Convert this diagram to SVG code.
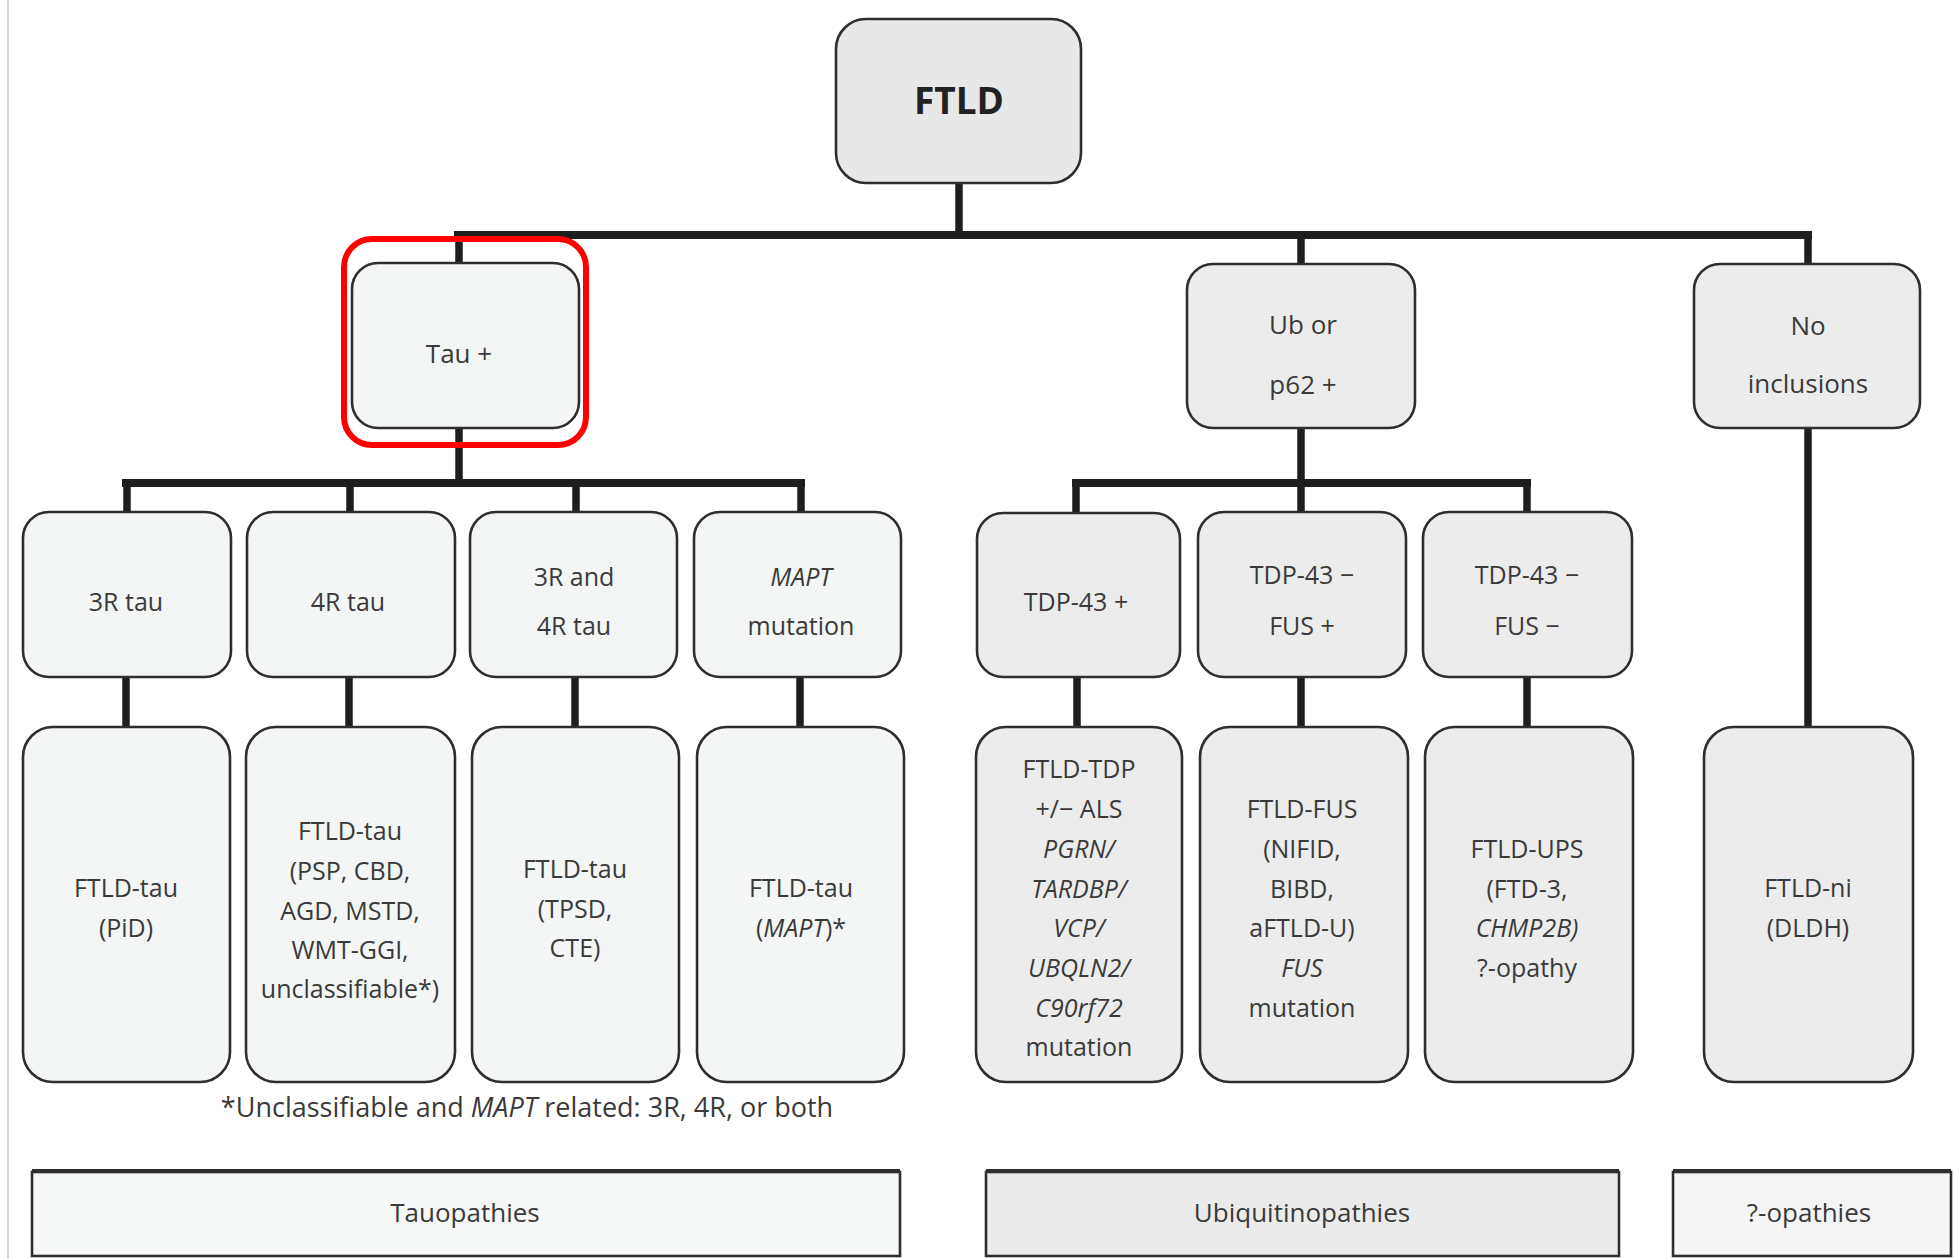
<svg xmlns="http://www.w3.org/2000/svg" width="1954" height="1259" viewBox="0 0 1954 1259">
<style>
.box{stroke:#2e2e2e;stroke-width:2.6}
.tau{fill:#f4f5f5}
.ubi{fill:#ececec}
.top{fill:#e8e8e9}
.t{font-family:"Open Sans","Noto Sans",sans-serif;font-size:25px;fill:#3a3a3a;text-anchor:middle}
.l1{font-size:26px}
.i{font-style:italic}
.conn line{stroke:#1e1e1e;stroke-linecap:butt}
.h{stroke-width:8}
.v{stroke-width:7.5}
.bar{stroke:#2e2e2e;stroke-width:2.6}
</style>
<rect x="0" y="0" width="1954" height="1259" fill="#ffffff"/>
<line x1="8" y1="0" x2="8" y2="1259" stroke="#d4d4d4" stroke-width="2"/>

<g id="connectors" class="conn">
  <line class="v" x1="959" y1="183" x2="959" y2="239"/>
  <line class="h" x1="454" y1="235" x2="1812" y2="235"/>
  <line class="v" x1="459" y1="231" x2="459" y2="263"/>
  <line class="v" x1="1301" y1="231" x2="1301" y2="263"/>
  <line class="v" x1="1808" y1="231" x2="1808" y2="263"/>
  <line class="v" x1="459" y1="428" x2="459" y2="487"/>
  <line class="h" x1="122" y1="483" x2="805" y2="483"/>
  <line class="v" x1="127" y1="479" x2="127" y2="512"/>
  <line class="v" x1="350" y1="479" x2="350" y2="512"/>
  <line class="v" x1="576" y1="479" x2="576" y2="512"/>
  <line class="v" x1="801" y1="479" x2="801" y2="512"/>
  <line class="v" x1="1301" y1="428" x2="1301" y2="487"/>
  <line class="h" x1="1072" y1="483" x2="1531" y2="483"/>
  <line class="v" x1="1076" y1="479" x2="1076" y2="512"/>
  <line class="v" x1="1301" y1="479" x2="1301" y2="512"/>
  <line class="v" x1="1527" y1="479" x2="1527" y2="512"/>
  <line class="v" x1="1808" y1="428" x2="1808" y2="727"/>
  <line class="v" x1="126" y1="677" x2="126" y2="727"/>
  <line class="v" x1="349" y1="677" x2="349" y2="727"/>
  <line class="v" x1="575" y1="677" x2="575" y2="727"/>
  <line class="v" x1="800" y1="677" x2="800" y2="727"/>
  <line class="v" x1="1077" y1="677" x2="1077" y2="727"/>
  <line class="v" x1="1301" y1="677" x2="1301" y2="727"/>
  <line class="v" x1="1527" y1="677" x2="1527" y2="727"/>
</g>

<g id="ftld">
  <rect class="box top" x="836" y="19" width="245" height="164" rx="30"/>
  <text class="t" x="959" y="114" style="font-size:37px;font-weight:bold;fill:#222">FTLD</text>
</g>

<g id="tau-pos">
  <rect class="box tau" x="352" y="263" width="227" height="165" rx="26"/>
  <text class="t l1" x="459" y="363">Tau +</text>
</g>
<g id="highlight">
  <rect x="344" y="239" width="242" height="206" rx="28" fill="none" stroke="#ff0000" stroke-width="6"/>
</g>

<g id="ub-p62">
  <rect class="box ubi" x="1187" y="264" width="228" height="164" rx="26"/>
  <text class="t l1" x="1303" y="334">Ub or</text>
  <text class="t l1" x="1303" y="394">p62 +</text>
</g>

<g id="no-inclusions">
  <rect class="box ubi" x="1694" y="264" width="226" height="164" rx="26"/>
  <text class="t l1" x="1808" y="335">No</text>
  <text class="t l1" x="1808" y="393">inclusions</text>
</g>

<g id="r3-tau">
  <rect class="box tau" x="23" y="512" width="208" height="165" rx="26"/>
  <text class="t" x="126" y="611">3R tau</text>
</g>
<g id="r4-tau">
  <rect class="box tau" x="247" y="512" width="208" height="165" rx="26"/>
  <text class="t" x="348" y="611">4R tau</text>
</g>
<g id="r3-4-tau">
  <rect class="box tau" x="470" y="512" width="207" height="165" rx="26"/>
  <text class="t" x="574" y="586">3R and</text>
  <text class="t" x="574" y="635">4R tau</text>
</g>
<g id="mapt-mutation">
  <rect class="box tau" x="694" y="512" width="207" height="165" rx="26"/>
  <text class="t i" x="801" y="586">MAPT</text>
  <text class="t" x="801" y="635">mutation</text>
</g>

<g id="tdp-pos">
  <rect class="box ubi" x="977" y="513" width="203" height="164" rx="26"/>
  <text class="t" x="1076" y="611">TDP-43 +</text>
</g>
<g id="fus-pos">
  <rect class="box ubi" x="1198" y="512" width="208" height="165" rx="26"/>
  <text class="t" x="1302" y="584">TDP-43 −</text>
  <text class="t" x="1302" y="635">FUS +</text>
</g>
<g id="fus-neg">
  <rect class="box ubi" x="1423" y="512" width="209" height="165" rx="26"/>
  <text class="t" x="1527" y="584">TDP-43 −</text>
  <text class="t" x="1527" y="635">FUS −</text>
</g>

<g id="ftld-tau-pid">
  <rect class="box tau" x="23" y="727" width="207" height="355" rx="30"/>
  <text class="t" x="126" y="897">FTLD-tau</text>
  <text class="t" x="126" y="937">(PiD)</text>
</g>
<g id="ftld-tau-4r">
  <rect class="box tau" x="246" y="727" width="209" height="355" rx="30"/>
  <text class="t" x="350" y="840">FTLD-tau</text>
  <text class="t" x="350" y="880">(PSP, CBD,</text>
  <text class="t" x="350" y="920">AGD, MSTD,</text>
  <text class="t" x="350" y="959">WMT-GGI,</text>
  <text class="t" x="350" y="998">unclassifiable*)</text>
</g>
<g id="ftld-tau-3r4r">
  <rect class="box tau" x="472" y="727" width="207" height="355" rx="30"/>
  <text class="t" x="575" y="878">FTLD-tau</text>
  <text class="t" x="575" y="918">(TPSD,</text>
  <text class="t" x="575" y="957">CTE)</text>
</g>
<g id="ftld-tau-mapt">
  <rect class="box tau" x="697" y="727" width="207" height="355" rx="30"/>
  <text class="t" x="801" y="897">FTLD-tau</text>
  <text class="t" x="801" y="937">(<tspan class="i">MAPT</tspan>)*</text>
</g>

<g id="ftld-tdp">
  <rect class="box ubi" x="976" y="727" width="206" height="355" rx="30"/>
  <text class="t" x="1079" y="778">FTLD-TDP</text>
  <text class="t" x="1079" y="818">+/− ALS</text>
  <text class="t i" x="1079" y="858">PGRN/</text>
  <text class="t i" x="1079" y="898">TARDBP/</text>
  <text class="t i" x="1079" y="937">VCP/</text>
  <text class="t i" x="1079" y="977">UBQLN2/</text>
  <text class="t i" x="1079" y="1017">C90rf72</text>
  <text class="t" x="1079" y="1056">mutation</text>
</g>
<g id="ftld-fus">
  <rect class="box ubi" x="1200" y="727" width="208" height="355" rx="30"/>
  <text class="t" x="1302" y="818">FTLD-FUS</text>
  <text class="t" x="1302" y="858">(NIFID,</text>
  <text class="t" x="1302" y="898">BIBD,</text>
  <text class="t" x="1302" y="937">aFTLD-U)</text>
  <text class="t i" x="1302" y="977">FUS</text>
  <text class="t" x="1302" y="1017">mutation</text>
</g>
<g id="ftld-ups">
  <rect class="box ubi" x="1425" y="727" width="208" height="355" rx="30"/>
  <text class="t" x="1527" y="858">FTLD-UPS</text>
  <text class="t" x="1527" y="898">(FTD-3,</text>
  <text class="t i" x="1527" y="937">CHMP2B)</text>
  <text class="t" x="1527" y="977">?-opathy</text>
</g>
<g id="ftld-ni">
  <rect class="box ubi" x="1704" y="727" width="209" height="355" rx="30"/>
  <text class="t" x="1808" y="897">FTLD-ni</text>
  <text class="t" x="1808" y="937">(DLDH)</text>
</g>

<g id="footnote">
  <text class="t" x="527" y="1117" style="font-size:27px">*Unclassifiable and <tspan class="i">MAPT</tspan> related: 3R, 4R, or both</text>
</g>

<g id="tauopathies">
  <rect class="bar" x="32" y="1172" width="868" height="84" fill="#f6f7f7"/>
  <line x1="32" y1="1171" x2="900" y2="1171" stroke="#2e2e2e" stroke-width="4"/>
  <text class="t l1" x="465" y="1222">Tauopathies</text>
</g>
<g id="ubiquitinopathies">
  <rect class="bar" x="986" y="1172" width="633" height="84" fill="#ebebeb"/>
  <line x1="986" y1="1171" x2="1619" y2="1171" stroke="#2e2e2e" stroke-width="4"/>
  <text class="t l1" x="1302" y="1222">Ubiquitinopathies</text>
</g>
<g id="opathies">
  <rect class="bar" x="1673" y="1172" width="278" height="84" fill="#f5f5f5"/>
  <line x1="1673" y1="1171" x2="1951" y2="1171" stroke="#2e2e2e" stroke-width="4"/>
  <text class="t l1" x="1809" y="1222">?-opathies</text>
</g>
</svg>
